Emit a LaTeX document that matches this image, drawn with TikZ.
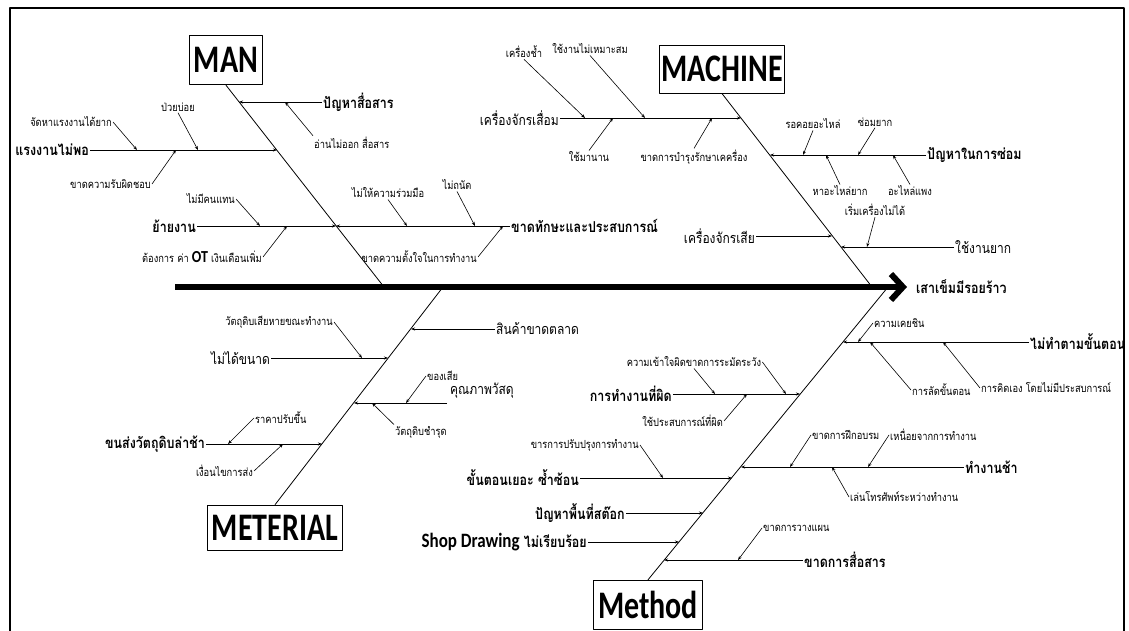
\documentclass[tikz,border=0pt]{standalone}
\usepackage{fontspec}
\usetikzlibrary{arrows.meta}
\newfontfamily\thaifont[Script=Thai]{Loma}
\newfontfamily\boxfont{Carlito}

\begin{document}
\begin{tikzpicture}[
  x={(1pt,0pt)},
  y={(0pt,-1pt)},
  line join=round,
  >={Stealth[length=4pt,width=3pt]},
  headbox/.style={draw=black,line width=0.8pt,inner sep=2pt,yscale=1.3,
    font=\boxfont\bfseries\fontsize{30}{30}\selectfont},
  cause/.style={inner sep=1pt,yscale=1.2,font=\thaifont\bfseries\fontsize{12.5}{14}\selectfont},
  plaincause/.style={inner sep=1pt,yscale=1.2,font=\thaifont\fontsize{12}{14}\selectfont},
  sub/.style={inner sep=1pt,yscale=1.2,font=\thaifont\fontsize{9.3}{11}\selectfont},
  bone/.style={draw=black,line width=0.8pt},
  twig/.style={draw=black,line width=0.6pt,->}
]
  \useasboundingbox (0,0) rectangle (1129,631);
  % Frame.
  \draw[line width=1.5pt] (10,631) -- (10,8) -- (1124,8) -- (1124,631);

  % Category boxes.
  \node[headbox,minimum width=73pt,minimum height=38pt] (man) at (226,60) {MAN};
  \node[headbox,minimum width=125pt,minimum height=37pt] (machine) at (722,69) {MACHINE};
  \node[headbox,minimum width=135pt,minimum height=35pt] (meterial) at (275,528) {METERIAL};
  \node[headbox,minimum width=109pt,minimum height=38pt] (method) at (648,605) {Method};

  % Spine.
  \coordinate (tail) at (175,287);
  \node[cause,anchor=west] (effect) at (915,287) {เสาเข็มมีรอยร้าว};
  \draw[line width=6pt,-{Straight Barb[length=12pt,width=26pt]}] (tail) -- ([xshift=-8pt]effect.west);

  % Bone ends on the spine.
  \coordinate (manend) at (384,287);
  \coordinate (machineend) at (872,287);
  \coordinate (meterialend) at (443,287);
  \coordinate (methodend) at (888,287);
  \draw[bone] (man.south) -- (manend);
  \draw[bone] (machine.south) -- (machineend);
  \draw[bone] (meterial.north) -- (meterialend);
  \draw[bone] (method.north) -- (methodend);

  % MAN branches.
  \coordinate (m1) at (239,102);
  \coordinate (m2) at (277,150);
  \coordinate (m3) at (336,226);
  \node[cause,anchor=west] (m1l) at (322,102) {ปัญหาสื่อสาร};
  \node[cause,anchor=east] (m2l) at (90,150) {แรงงานไม่พอ};
  \node[cause,anchor=east] (m3l) at (197,226) {ย้ายงาน};
  \node[cause,anchor=west] (m4l) at (510,226) {ขาดทักษะและประสบการณ์};
  \draw[bone,->] (m1l.west) -- (m1);
  \draw[bone,->] (m2l.east) -- (m2);
  \draw[bone,->] (m3l.east) -- (m3);
  \draw[bone,->] (m4l.west) -- (m3);

  \coordinate (m1a) at (285,102);
  \coordinate (m2a) at (137,150);
  \coordinate (m2b) at (198,150);
  \coordinate (m2c) at (176,150);
  \coordinate (m3a) at (260,226);
  \coordinate (m3b) at (287,226);
  \coordinate (m4a) at (407,226);
  \coordinate (m4b) at (475,226);
  \coordinate (m4c) at (503,226);
  \node[sub,anchor=west] (m1al) at (313,143) {อ่านไม่ออก สื่อสาร};
  \node[sub,anchor=east] (m2al) at (113,122) {จัดหาแรงงานได้ยาก};
  \node[sub] (m2bl) at (178,107) {ป่วยบ่อย};
  \node[sub,anchor=east] (m2cl) at (152,184) {ขาดความรับผิดชอบ};
  \node[sub,anchor=east] (m3al) at (236,199) {ไม่มีคนแทน};
  \node[sub,anchor=east] (m3bl) at (263,257)
    {ต้องการ ค่า {\boxfont\bfseries\fontsize{14}{14}\selectfont OT} เงินเดือนเพิ่ม};
  \node[sub] (m4al) at (388,193) {ไม่ให้ความร่วมมือ};
  \node[sub] (m4bl) at (457,185) {ไม่ถนัด};
  \node[sub,anchor=east] (m4cl) at (478,257) {ขาดความตั้งใจในการทำงาน};
  \draw[twig] (m1al.north west) -- (m1a);
  \draw[twig] (m2al.east) -- (m2a);
  \draw[twig] (m2bl.south) -- (m2b);
  \draw[twig] (m2cl.east) -- (m2c);
  \draw[twig] (m3al.east) -- (m3a);
  \draw[twig] (m3bl.east) -- (m3b);
  \draw[twig] (m4al.south) -- (m4a);
  \draw[twig] (m4bl.south) -- (m4b);
  \draw[twig] (m4cl.east) -- (m4c);

  % MACHINE branches.
  \coordinate (c1) at (741,118);
  \coordinate (c2) at (770,155);
  \coordinate (c3) at (832,236);
  \coordinate (c4) at (841,247);
  \node[plaincause,anchor=east] (c1l) at (560,118) {เครื่องจักรเสื่อม};
  \node[cause,anchor=west] (c2l) at (926,155) {ปัญหาในการซ่อม};
  \node[plaincause,anchor=east] (c3l) at (756,236) {เครื่องจักรเสีย};
  \node[plaincause,anchor=west] (c4l) at (954,247) {ใช้งานยาก};
  \draw[bone,->] (c1l.east) -- (c1);
  \draw[bone,->] (c2l.west) -- (c2);
  \draw[bone,->] (c3l.east) -- (c3);
  \draw[bone,->] (c4l.west) -- (c4);

  \coordinate (c1a) at (585,118);
  \coordinate (c1b) at (645,118);
  \coordinate (c1c) at (613,118);
  \coordinate (c1d) at (712,118);
  \coordinate (c2a) at (803,155);
  \coordinate (c2b) at (858,155);
  \coordinate (c2c) at (826,155);
  \coordinate (c2d) at (893,155);
  \coordinate (c4a) at (867,247);
  \node[sub] (c1al) at (524,52) {เครื่องช้ำ};
  \node[sub] (c1bl) at (590,49) {ใช้งานไม่เหมาะสม};
  \node[sub] (c1cl) at (589,157) {ใช้มานาน};
  \node[sub] (c1dl) at (694,157) {ขาดการบำรุงรักษาเคครื่อง};
  \node[sub] (c2al) at (813,124) {รอคอยอะไหล่};
  \node[sub] (c2bl) at (875,122) {ซ่อมยาก};
  \node[sub] (c2cl) at (840,191) {หาอะไหล่ยาก};
  \node[sub] (c2dl) at (910,191) {อะไหล่แพง};
  \node[sub] (c4al) at (875,210) {เริ่มเครื่องไม่ได้};
  \draw[twig] (c1al.south) -- (c1a);
  \draw[twig] (c1bl.south) -- (c1b);
  \draw[twig] (c1cl.north) -- (c1c);
  \draw[twig] (c1dl.north) -- (c1d);
  \draw[twig] (c2al.south) -- (c2a);
  \draw[twig] (c2bl.south) -- (c2b);
  \draw[twig] (c2cl.north) -- (c2c);
  \draw[twig] (c2dl.north) -- (c2d);
  \draw[twig] (c4al.south) -- (c4a);

  % METERIAL branches.
  \coordinate (t1) at (411,329);
  \coordinate (t2) at (388,358);
  \coordinate (t3) at (354,403);
  \coordinate (t3s) at (447,403);
  \coordinate (t4) at (322,444);
  \node[plaincause,anchor=west] (t1l) at (495,329) {สินค้าขาดตลาด};
  \node[plaincause,anchor=east] (t2l) at (271,358) {ไม่ได้ขนาด};
  \node[plaincause,anchor=west] (t3l) at (449,391) {คุณภาพวัสดุ};
  \node[cause,anchor=east] (t4l) at (206,444) {ขนส่งวัตถุดิบล่าช้า};
  \draw[bone,->] (t1l.west) -- (t1);
  \draw[bone,->] (t2l.east) -- (t2);
  \draw[bone,->] (t3s) -- (t3);
  \draw[bone,->] (t4l.east) -- (t4);

  \coordinate (t2a) at (362,358);
  \coordinate (t3a) at (406,403);
  \coordinate (t3b) at (372,403);
  \coordinate (t4a) at (228,444);
  \coordinate (t4b) at (283,444);
  \node[sub,anchor=east] (t2al) at (334,322) {วัตถุดิบเสียหายขณะทำงาน};
  \node[sub,anchor=west] (t3al) at (426,376) {ของเสีย};
  \node[sub,anchor=west] (t3bl) at (394,432) {วัตถุดิบชำรุด};
  \node[sub,anchor=west] (t4al) at (254,418) {ราคาปรับขึ้น};
  \node[sub,anchor=east] (t4bl) at (254,471) {เงื่อนไขการส่ง};
  \draw[twig] (t2al.east) -- (t2a);
  \draw[twig] (t3al.west) -- (t3a);
  \draw[twig] (t3bl.north west) -- (t3b);
  \draw[twig] (t4al.west) -- (t4a);
  \draw[twig] (t4bl.east) -- (t4b);

  % Method branches.
  \coordinate (d1) at (843,342);
  \coordinate (d2) at (800,394);
  \coordinate (d3) at (741,467);
  \coordinate (d4) at (732,478);
  \coordinate (d5) at (703,513);
  \coordinate (d6) at (679,542);
  \coordinate (d7) at (664,560);
  \node[cause,anchor=west] (d1l) at (1029,342) {ไม่ทำตามขั้นตอน};
  \node[cause,anchor=east] (d2l) at (673,394) {การทำงานที่ผิด};
  \node[cause,anchor=west] (d3l) at (964,467) {ทำงานช้า};
  \node[cause,anchor=east] (d4l) at (580,478) {ขั้นตอนเยอะ ซ้ำซ้อน};
  \node[cause,anchor=east] (d5l) at (626,513) {ปัญหาพื้นที่สต๊อก};
  \node[cause,anchor=east] (d6l) at (588,542)
    {{\boxfont\bfseries\fontsize{17}{17}\selectfont Shop Drawing} ไม่เรียบร้อย};
  \node[cause,anchor=west] (d7l) at (803,560) {ขาดการสื่อสาร};
  \draw[bone,->] (d1l.west) -- (d1);
  \draw[bone,->] (d2l.east) -- (d2);
  \draw[bone,->] (d3l.west) -- (d3);
  \draw[bone,->] (d4l.east) -- (d4);
  \draw[bone,->] (d5l.east) -- (d5);
  \draw[bone,->] (d6l.east) -- (d6);
  \draw[bone,->] (d7l.west) -- (d7);

  \coordinate (d1a) at (858,342);
  \coordinate (d1b) at (870,342);
  \coordinate (d1c) at (943,342);
  \coordinate (d2a) at (715,394);
  \coordinate (d2b) at (786,394);
  \coordinate (d2c) at (747,394);
  \coordinate (d3a) at (790,467);
  \coordinate (d3b) at (868,467);
  \coordinate (d3c) at (832,467);
  \coordinate (d4a) at (663,478);
  \coordinate (d7a) at (738,560);
  \node[sub,anchor=west] (d1al) at (873,323) {ความเคยชิน};
  \node[sub,anchor=west] (d1bl) at (911,390) {การลัดขั้นตอน};
  \node[sub,anchor=west] (d1cl) at (980,388) {การคิดเอง โดยไม่มีประสบการณ์};
  \node[sub] (d2al) at (694,362) {ความเข้าใจผิดขาดการระมัดระวัง};
  \node[sub,anchor=east] (d2cl) at (724,421) {ใช้ประสบการณ์ที่ผิด};
  \node[sub,anchor=west] (d3al) at (811,435) {ขาดการฝึกอบรม};
  \node[sub,anchor=west] (d3bl) at (889,435) {เหนื่อยจากการทำงาน};
  \node[sub,anchor=west] (d3cl) at (849,497) {เล่นโทรศัพท์ระหว่างทำงาน};
  \node[sub,anchor=east] (d4al) at (640,445) {ขารการปรับปรุงการทำงาน};
  \node[sub,anchor=west] (d7al) at (762,528) {ขาดการวางแผน};
  \draw[twig] (d1al.west) -- (d1a);
  \draw[twig] (d1bl.west) -- (d1b);
  \draw[twig] (d1cl.west) -- (d1c);
  \draw[twig] (d2al.south) -- (d2a);
  \draw[twig] (d2al.east) -- (d2b);
  \draw[twig] (d2cl.east) -- (d2c);
  \draw[twig] (d3al.west) -- (d3a);
  \draw[twig] (d3bl.west) -- (d3b);
  \draw[twig] (d3cl.west) -- (d3c);
  \draw[twig] (d4al.east) -- (d4a);
  \draw[twig] (d7al.west) -- (d7a);
\end{tikzpicture}
\end{document}
